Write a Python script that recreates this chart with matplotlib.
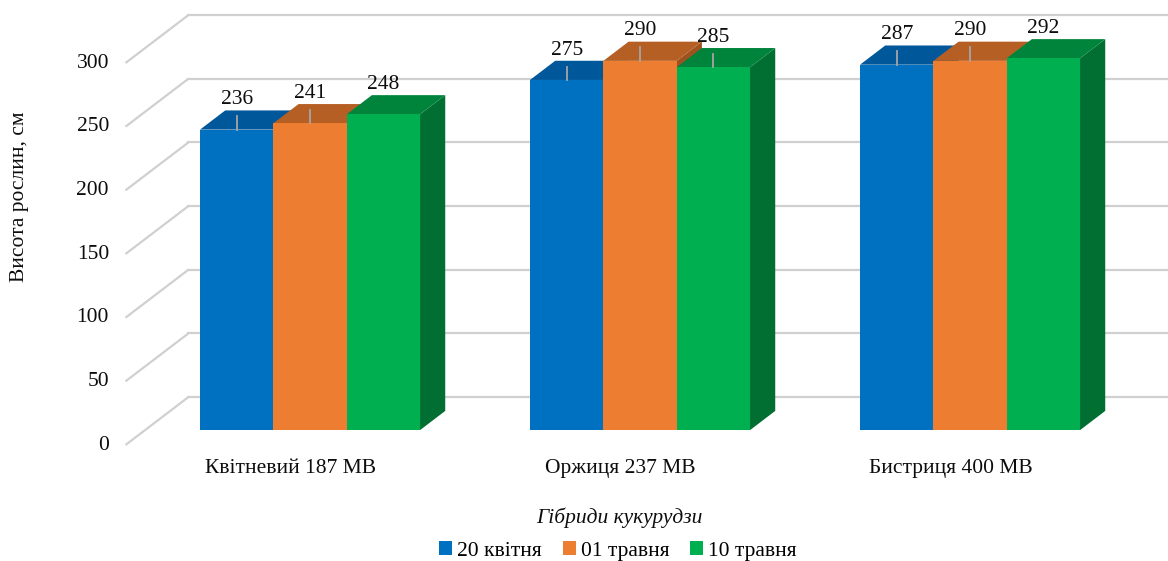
import matplotlib
matplotlib.use("Agg")
import matplotlib.pyplot as plt
from matplotlib.patches import Polygon, Patch

categories = ["Квітневий 187 МВ", "Оржиця 237 МВ", "Бистриця 400 МВ"]
series_names = ["20 квітня", "01 травня", "10 травня"]
values = [
    [236, 275, 287],   # 20 квітня
    [241, 290, 290],   # 01 травня
    [248, 285, 292],   # 10 травня
]
yticks = [0, 50, 100, 150, 200, 250, 300]
leaders = [[True, True, False], [True, True, True], [True, True, False]]

front_cols = ["#0070C0", "#ED7D31", "#00B050"]
top_cols = ["#00589A", "#B65F24", "#00843C"]
side_cols = ["#004C85", "#A0521E", "#006F31"]

W, H, DPI = 1168, 561, 100
fig = plt.figure(figsize=(W / DPI, H / DPI), dpi=DPI)
ax = fig.add_axes([0, 0, 1, 1])
ax.axis("off")

# pixel mapping helpers for axis limits only
px0, pxs = 125.5, 330.0     # front-plane x origin and px per category
py0, pys = 445.0, 1.2733    # front-plane y origin and px per unit
ax.set_xlim((0 - px0) / pxs, (W - px0) / pxs)
ax.set_ylim((py0 - H) / pys, (py0 - 0) / pys)

DX = 63.0 / pxs      # full depth x shift (data)
DY = 48.0 / pys      # full depth y shift (data)
ncat = len(categories)

plt.rcParams["font.family"] = ["Liberation Serif", "DejaVu Serif"]
FS = 15.5
grid_c = "#d0d0d0"
txt_c = "#0d0d0d"

# gridlines: side wall diagonal + back wall horizontal
for t in yticks:
    ax.plot([0, DX], [t, t + DY], color=grid_c, lw=1.6, zorder=1, solid_capstyle="butt")
    ax.plot([DX, ncat + DX], [t + DY, t + DY], color=grid_c, lw=1.6, zorder=1)
    ax.text(-0.05, t, str(t), ha="right", va="center", fontsize=FS, color=txt_c)

# bars
group_w = 2.0 / 3.0
bw = group_w / len(series_names)
d0, d1 = 0.31, 0.71
z = 2
for ci in range(ncat):
    for si in range(len(series_names)):
        v = values[si][ci]
        x0 = ci + 0.5 - group_w / 2 + si * bw + d0 * DX
        x1 = x0 + bw
        yb = d0 * DY
        yt = v + d0 * DY
        ddx = (d1 - d0) * DX
        ddy = (d1 - d0) * DY
        side = Polygon([(x1, yb), (x1 + ddx, yb + ddy), (x1 + ddx, yt + ddy), (x1, yt)],
                       closed=True, facecolor=side_cols[si], edgecolor="none", zorder=z)
        top = Polygon([(x0, yt), (x1, yt), (x1 + ddx, yt + ddy), (x0 + ddx, yt + ddy)],
                      closed=True, facecolor=top_cols[si], edgecolor="none", zorder=z)
        front = Polygon([(x0, yb), (x1, yb), (x1, yt), (x0, yt)],
                        closed=True, facecolor=front_cols[si], edgecolor="none", zorder=z)
        ax.add_patch(side)
        ax.add_patch(top)
        ax.add_patch(front)
        z += 1
        xc = (x0 + x1) / 2
        if leaders[ci][si]:
            ax.plot([xc, xc], [yt, yt + 10.5], color="#a6a6a6", lw=1.3, zorder=50)
        ax.text(xc, yt + 23.5, str(v), ha="center", va="center", fontsize=FS,
                color=txt_c, zorder=60)

# category labels
for ci, name in enumerate(categories):
    ax.text(ci + 0.5, -18.8, name, ha="center", va="center", fontsize=FS, color=txt_c)

# axis titles
fig.text(20 / W, 1 - 197 / H, "Висота рослин, см", rotation=90, ha="center", va="center",
         fontsize=FS, color=txt_c)
fig.text(619 / W, 1 - 518 / H, "Гібриди кукурудзи", ha="center", va="center",
         fontsize=FS, style="italic", color=txt_c)

handles = [Patch(facecolor=c, edgecolor="none") for c in front_cols]
fig.legend(handles, series_names, loc="center", bbox_to_anchor=(618 / W, 1 - 551 / H),
           ncol=3, frameon=False, fontsize=FS, handlelength=0.6, handleheight=0.6,
           handletextpad=0.25, columnspacing=0.95)

fig.savefig("out.png", dpi=DPI)
